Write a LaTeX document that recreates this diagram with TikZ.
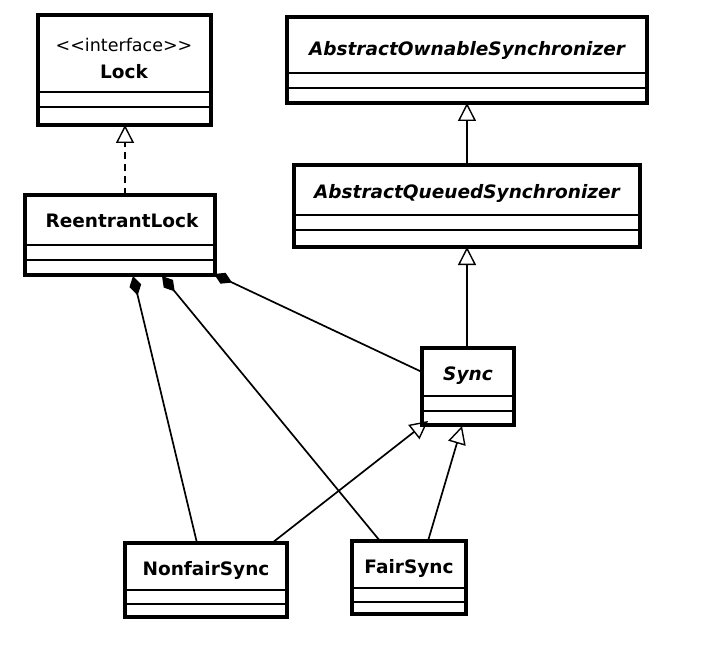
\documentclass[tikz,border=0pt]{standalone}
\usepackage{fontspec}
\setmainfont{DejaVu Sans}
\usetikzlibrary{arrows.meta}
\begin{document}
\begin{tikzpicture}[x=1pt,y=-1pt,
  box/.style={draw,line width=3.2pt},
  sep/.style={line width=1.4pt},
  ttl/.style={font=\bfseries\fontsize{18.5}{21}\selectfont},
  itl/.style={font=\bfseries\itshape\fontsize{18.5}{21}\selectfont},
  inh/.style={line width=1.7pt,-{Triangle[open,length=18pt,width=18pt,line width=1.4pt]}},
  comp/.style={line width=1.7pt,{Diamond[length=20pt,width=12pt]}-}]
\useasboundingbox (0,0) rectangle (702,650);
% Lock
\draw[box] (38,15) rectangle (211,125);
\node (lockI) at (124,45) {\fontsize{17.5}{20}\selectfont <\kern0pt<interface>\kern0pt>};
\node[ttl] (lockT) at (124,72) {Lock};
\draw[sep] (38,92)--(211,92) (38,107)--(211,107);
\coordinate (lockB) at (125,125);
% AOS
\draw[box] (287,17) rectangle (647,103);
\node[itl] (aos) at (467,50) {AbstractOwnableSynchronizer};
\draw[sep] (287,73)--(647,73) (287,88)--(647,88);
\coordinate (aosB) at (467,103);
% AQS
\draw[box] (294,165) rectangle (640,247);
\node[itl] (aqs) at (467,193) {AbstractQueuedSynchronizer};
\draw[sep] (294,215)--(640,215) (294,230)--(640,230);
\coordinate (aqsT) at (467,165);
\coordinate (aqsB) at (467,247);
% ReentrantLock
\draw[box] (25,195) rectangle (215,275);
\node[ttl] (rl) at (122,221) {ReentrantLock};
\draw[sep] (25,245)--(215,245) (25,260)--(215,260);
\coordinate (rlT) at (125,195);
% Sync
\draw[box] (422,348) rectangle (514,425);
\node[itl] (sync) at (468,376) {Sync};
\draw[sep] (422,396)--(514,396) (422,411)--(514,411);
\coordinate (syncT) at (467,348);
% NonfairSync
\draw[box] (125,543) rectangle (287,617);
\node[ttl] (nf) at (206,570) {NonfairSync};
\draw[sep] (125,590)--(287,590) (125,604)--(287,604);
% FairSync
\draw[box] (352,541) rectangle (466,614);
\node[ttl] (fs) at (409,568) {FairSync};
\draw[sep] (352,588)--(466,588) (352,602)--(466,602);
% inheritance
\draw[inh,dash pattern=on 7pt off 5pt] (rlT) -- (lockB);
\draw[inh] (aqsT) -- (aosB);
\draw[inh] (syncT) -- (aqsB);
\draw[inh] (272,543) -- (428,421);
\draw[inh] (428,541) -- (462,426);
% composition
\draw[comp] (133,276) -- (197,543);
\draw[comp] (162,276) -- (380,541);
\draw[comp] (214,274) -- (422,372);
\end{tikzpicture}
\end{document}
